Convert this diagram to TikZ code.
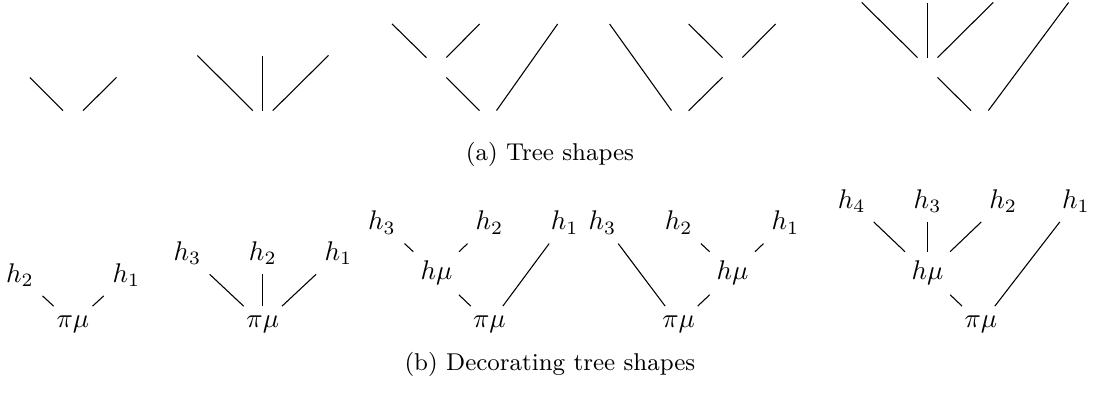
\documentclass[tikz,border=0pt]{standalone}
\usepackage{tikz}

\begin{document}
\begin{tikzpicture}[
    blank/.style={inner sep=3.5pt},
    lab/.style={anchor=base},
    subcap/.style={anchor=base, font=\small},
]
    \useasboundingbox (0,0) rectangle (14.32,5.129);

    % (a) bare tree shapes
    \node[blank] (s1)  at (0.950,3.560) {};
    \node[blank] (s1a) at (0.260,4.250) {};
    \node[blank] (s1b) at (1.647,4.250) {};
    \draw (s1) -- (s1a);
    \draw (s1) -- (s1b);

    \node[blank] (s2)  at (3.421,3.560) {};
    \node[blank] (s2a) at (2.439,4.536) {};
    \node[blank] (s2b) at (3.421,4.536) {};
    \node[blank] (s2c) at (4.406,4.536) {};
    \foreach \c in {a,b,c} \draw (s2) -- (s2\c);

    \node[blank] (s3)  at (6.372,3.560) {};
    \node[blank] (s3m) at (5.682,4.250) {};
    \node[blank] (s3a) at (4.973,4.946) {};
    \node[blank] (s3b) at (6.372,4.946) {};
    \node[blank] (s3c) at (7.351,4.946) {};
    \draw (s3) -- (s3m);
    \draw (s3) -- (s3c);
    \draw (s3m) -- (s3a);
    \draw (s3m) -- (s3b);

    \node[blank] (s4)  at (8.835,3.560) {};
    \node[blank] (s4m) at (9.535,4.250) {};
    \node[blank] (s4a) at (7.843,4.946) {};
    \node[blank] (s4b) at (8.835,4.946) {};
    \node[blank] (s4c) at (10.225,4.946) {};
    \draw (s4) -- (s4a);
    \draw (s4) -- (s4m);
    \draw (s4m) -- (s4b);
    \draw (s4m) -- (s4c);

    \node[blank] (s5)  at (12.770,3.560) {};
    \node[blank] (s5m) at (12.075,4.250) {};
    \node[blank] (s5a) at (11.088,5.226) {};
    \node[blank] (s5b) at (12.075,5.226) {};
    \node[blank] (s5c) at (13.060,5.226) {};
    \node[blank] (s5d) at (14.007,5.226) {};
    \draw (s5) -- (s5m);
    \draw (s5) -- (s5d);
    \foreach \c in {a,b,c} \draw (s5m) -- (s5\c);

    \node[subcap] (capa) at (7.159,3.037) {(a) Tree shapes};

    % (b) decorated trees
    \node[lab] (d1)  at (0.950,0.868) {$\pi\mu$};
    \node[lab] (d1a) at (0.260,1.454) {$h_2$};
    \node[lab] (d1b) at (1.647,1.454) {$h_1$};
    \draw (d1) -- (d1a);
    \draw (d1) -- (d1b);

    \node[lab] (d2)  at (3.421,0.868) {$\pi\mu$};
    \node[lab] (d2a) at (2.439,1.735) {$h_3$};
    \node[lab] (d2b) at (3.421,1.735) {$h_2$};
    \node[lab] (d2c) at (4.406,1.735) {$h_1$};
    \foreach \c in {a,b,c} \draw (d2) -- (d2\c);

    \node[lab] (d3)  at (6.372,0.868) {$\pi\mu$};
    \node[lab] (d3m) at (5.682,1.484) {$h\mu$};
    \node[lab] (d3a) at (4.973,2.135) {$h_3$};
    \node[lab] (d3b) at (6.372,2.135) {$h_2$};
    \node[lab] (d3c) at (7.351,2.135) {$h_1$};
    \draw (d3) -- (d3m);
    \draw (d3) -- (d3c);
    \draw (d3m) -- (d3a);
    \draw (d3m) -- (d3b);

    \node[lab] (d4)  at (8.835,0.868) {$\pi\mu$};
    \node[lab] (d4m) at (9.535,1.484) {$h\mu$};
    \node[lab] (d4a) at (7.843,2.135) {$h_3$};
    \node[lab] (d4b) at (8.835,2.135) {$h_2$};
    \node[lab] (d4c) at (10.225,2.135) {$h_1$};
    \draw (d4) -- (d4a);
    \draw (d4) -- (d4m);
    \draw (d4m) -- (d4b);
    \draw (d4m) -- (d4c);

    \node[lab] (d5)  at (12.770,0.868) {$\pi\mu$};
    \node[lab] (d5m) at (12.075,1.484) {$h\mu$};
    \node[lab] (d5a) at (11.088,2.417) {$h_4$};
    \node[lab] (d5b) at (12.075,2.417) {$h_3$};
    \node[lab] (d5c) at (13.060,2.417) {$h_2$};
    \node[lab] (d5d) at (14.007,2.417) {$h_1$};
    \draw (d5) -- (d5m);
    \draw (d5) -- (d5d);
    \foreach \c in {a,b,c} \draw (d5m) -- (d5\c);

    \node[subcap] (capb) at (7.159,0.303) {(b) Decorating tree shapes};
\end{tikzpicture}
\end{document}
